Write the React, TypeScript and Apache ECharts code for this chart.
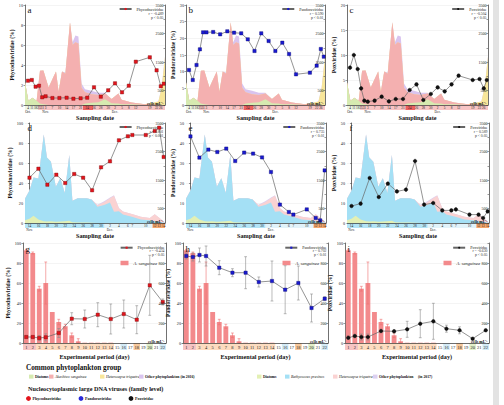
import React, { useEffect, useRef } from "react";
import * as echarts from "echarts";

const FONT = '"Liberation Serif", "Times New Roman", serif';

// ---------------- 2016 field survey (panels a–c) ----------------
const days2016 = [1.5, 3.4, 5.3, 7, 8.6, 10.3, 13.7, 17.2, 20.8, 24.2, 27.8, 31.1, 34.5, 37.9, 41.6, 45, 48.5, 51.9, 55.4, 62.4, 65.8, 67.9, 69.4];
const dateLabels2016 = ["4", "11", "18", "25", "31", "3", "7", "10", "14", "17", "21", "24", "26", "28", "30", "2", "5", "8", "12", "19", "22", "26", "29"];
const monthPos2016 = [1.5, 10.3, 45];
const monthNames2016 = ["Oct.", "Nov.", "Dec."];
const phyco2016 = [2.43, 2.5, 1.83, 1.93, 0.77, 0.87, 0.7, 0.7, 0.73, 0.63, 0.67, 0.73, 1.77, 0.83, 1.47, 2.17, 1.27, 1.93, 4.33, 4.77, 3.47, 1.87, 2.13];
const pandora2016 = [10.5, 7.5, 12, 16.7, 21.8, 21.8, 21.9, 21.2, 22.1, 21.7, 21.5, 19.7, 16.2, 21.5, 19.2, 16.2, 18.7, 15.3, 9.2, 9.7, 11.8, 16.8, 14.5];
const pox2016 = [7.47, 10, 7.2, 3.33, 0.87, 0.67, 0.87, 1.67, 0.73, 1.2, 1.2, 3.0, 4.13, 1.0, 2.2, 3.53, 2.73, 4.13, 5.87, 5.0, 5.2, 3.33, 5.0];

const areaDays2016 = [0, 1.7, 3.7, 5.8, 7.5, 9.2, 11.8, 13.8, 15.5, 16.8, 18.5, 20.2, 22.5, 23.8, 25.2, 26.7, 28.3, 30, 33.3, 36.7, 40, 43.3, 46.7, 48.3, 53.3, 60, 66.7, 68.3, 70];
const diatoms2016 = [800, 150, 250, 150, 50, 30, 0, 0, 0, 0, 0, 0, 0, 0, 0, 0, 0, 50, 80, 100, 200, 60, 50, 30, 30, 0, 0, 0, 0];
const akashiwo2016 = [0, 0, 0, 0, 1150, 1180, 610, 920, 1170, 460, 1170, 1090, 2900, 2100, 2200, 2150, 600, 400, 300, 250, 200, 150, 350, 150, 60, 30, 20, 0, 0];
const hetero2016 = [0, 0, 0, 0, 0, 0, 0, 0, 0, 0, 0, 0, 0, 0, 0, 0, 0, 0, 0, 0, 0, 0, 0, 0, 0, 0, 100, 600, 1700];
const other2016 = [0, 0, 0, 0, 0, 0, 0, 0, 0, 0, 0, 50, 0, 100, 230, 250, 150, 100, 120, 80, 30, 0, 0, 0, 0, 0, 0, 0, 0];
const phaseStart2016 = [0, 6.5, 29, 34];
const phaseEnd2016 = [6.5, 29, 34, 70];
const phaseType2016 = ["pre", "bloom", "peak", "bloom"];

// ---------------- 2017 field survey (panels d–f) ----------------
const days2017 = [0, 2, 4, 6, 8, 10, 12, 14, 16, 18, 20, 22, 23, 26, 28, 29, 30];
const dateLabels2017 = ["14", "16", "18", "20", "22", "24", "26", "28", "30", "2", "4", "6", "7", "10", "12", "13", "14"];
const monthPos2017 = [0, 18];
const monthNames2017 = ["Nov.", "Dec."];
const phyco2017 = [45.3, 54.3, 38.3, 48.3, 40, 49, 45.3, 32.7, 55.7, 61.7, 82.7, 86.7, 88, 88, 92, 95.3, 66];
const pandora2017 = [43.3, 32.7, 36.7, 35.5, 37.2, 31, 35.2, 34.7, 32.8, 25.5, 9.2, 5.5, 4.2, 6.8, 2.5, 1.3, 26.3];
const pox2017 = [8.5, 9.7, 22.5, 13, 19.7, 15.8, 16.7, 31, 9.2, 10, 6.3, 6.3, 6.8, 4.2, 4.2, 2.5, 5.8];

const areaDays2017 = [-1, 0, 0.9, 2, 3.2, 3.9, 4.8, 5.9, 6.9, 7.9, 8.9, 9.6, 10.8, 12.8, 13.9, 15.2, 16.7, 18, 18.9, 20, 20.9, 22.9, 24.9, 26.9, 28, 29, 30, 30.3];
const diatoms2017 = [100, 150, 250, 120, 60, 50, 60, 40, 50, 60, 80, 30, 20, 20, 10, 0, 0, 0, 0, 0, 0, 0, 0, 0, 0, 0, 0, 0];
const bathy2017 = [750, 990, 1345, 1440, 3035, 2240, 2080, 1226, 1520, 990, 2300, 750, 845, 845, 810, 570, 630, 715, 390, 415, 300, 215, 120, 95, 60, 35, 20, 10];
const hetero2017 = [0, 0, 0, 0, 0, 0, 0, 0, 0, 0, 0, 0, 0, 0, 0, 50, 100, 150, 560, 100, 100, 100, 100, 80, 250, 150, 30, 0];
const other2017 = [0, 0, 0, 0, 0, 0, 0, 0, 0, 0, 0, 0, 0, 0, 0, 20, 30, 30, 20, 10, 0, 0, 0, 0, 0, 0, 0, 0];
const phaseStart2017 = [-1, 16.8, 27.5];
const phaseEnd2017 = [16.8, 27.5, 30.3];
const phaseType2017 = ["bathy", "late", "hetero"];

// ---------------- Experiment (panels g–i) ----------------
const expDays = ["1", "2", "3", "4", "5", "6", "7", "8", "9", "10", "11", "12", "13", "14", "15", "16", "17", "18", "19", "20", "21", "22"];
const sanguineaCells = [927, 900, 543, 600, 310, 210, 167, 77, 17, 3, 3, 3, 3, 3, 0, 0, 0, 0, 0, 0, 0, 0];
const sanguineaErr = [10, 10, 24, 210, 0, 27, 20, 23, 26, 0, 0, 0, 0, 0, 0, 0, 0, 0, 0, 0, 0, 0];
const virusDays = ["1", "2", "3", "4", "6", "8", "10", "12", "14", "16", "18", "20", "22"];
const phycoExp = [6, 6, 5, 5.7, 10, 24.3, 24, 28.3, 24, 29, 23.3, 57.7, 41];
const phycoExpErr = [1, 1, 2.5, 3.5, 4.5, 6, 9, 12, 15, 14, 14, 30, 3];
const pandoraExp = [87, 86, 88, 87, 75.3, 70.3, 70.3, 61, 62, 53.3, 60, 35, 44.3];
const pandoraExpErr = [3, 4, 7, 10, 7, 4, 16, 5, 20, 24, 17, 14, 2];
const poxExp = [5.3, 7, 6, 6, 12, 11.7, 13.7, 19.3, 21.7, 14.3, 12.7, 4.3, 12.7];
const poxExpErr = [1.5, 1.5, 3, 3, 1.5, 1.5, 8, 14, 18, 3.5, 3.5, 1, 1];
const phaseStartExp = [0.5, 2.5, 15.5, 17.5, 19.5, 21.5];
const phaseEndExp = [2.5, 14.5, 16.5, 18.5, 20.5, 22.5];
const phaseTypeExp = ["bloom", "decline", "blue", "orange", "green", "blue"];

// ---------------- styles ----------------
const phaseColor: Record<string, string> = {
  pre: "#eef5e2", bloom: "#f7c4c4", peak: "#ec6060",
  bathy: "#b3e4f6", late: "#e2f3fa", hetero: "#f4a66c",
  decline: "#fddcc0", blue: "#d3ebf7", orange: "#f8c99c", green: "#e2efc8",
};
const C16 = { diatoms: "#d6eab0", akashiwo: "#f4b0b0", hetero: "#f8e69a", other: "#d9c4ef" };
const C17 = { diatoms: "#e3f0b4", bathy: "#a4e0f5", hetero: "#fad2d2", other: "#ddd0f0" };
const virusStyle: Record<string, any> = {
  Phycodnaviridae: { color: "#e3141c", border: "#7a0000", symbol: "rect", size: 3.3 },
  Pandoraviridae: { color: "#1a1ad0", border: "#000070", symbol: "rect", size: 3.3 },
  Poxviridae: { color: "#111111", border: "#000000", symbol: "circle", size: 3.6 },
};

const panels = [
  { letter: "a", row: 0, col: 0, virus: "Phycodnaviridae", values: phyco2016, yMax: 10, yInt: 2, r: "r = -0.489", p: "p < 0.05" },
  { letter: "b", row: 0, col: 1, virus: "Pandoraviridae", values: pandora2016, yMax: 30, yInt: 5, r: "r = 0.590", p: "p < 0.01" },
  { letter: "c", row: 0, col: 2, virus: "Poxviridae", values: pox2016, yMax: 20, yInt: 5, r: "r = -0.504", p: "p < 0.05" },
  { letter: "d", row: 1, col: 0, virus: "Phycodnaviridae", values: phyco2017, yMax: 100, yInt: 20, r: "r = 0.801", p: "p < 0.001" },
  { letter: "e", row: 1, col: 1, virus: "Pandoraviridae", values: pandora2017, yMax: 50, yInt: 10, r: "r = 0.735", p: "p < 0.01" },
  { letter: "f", row: 1, col: 2, virus: "Poxviridae", values: pox2017, yMax: 50, yInt: 10, r: "r = 0.589", p: "p < 0.05" },
  { letter: "g", row: 2, col: 0, virus: "Phycodnaviridae", values: phycoExp, errors: phycoExpErr, yMax: 100, yInt: 20, r: "r = -0.434", p: "p < 0.05" },
  { letter: "h", row: 2, col: 1, virus: "Pandoraviridae", values: pandoraExp, errors: pandoraExpErr, yMax: 100, yInt: 20, r: "r = 0.702", p: "p < 0.01" },
  { letter: "i", row: 2, col: 2, virus: "Poxviridae", values: poxExp, errors: poxExpErr, yMax: 100, yInt: 20, r: "r = -0.630", p: "p < 0.05" },
];

const rowsLayout = [
  { top: 5, height: 100, band: 5, nameGap: 4, name: "Sampling date" },
  { top: 123, height: 100, band: 5, nameGap: 4, name: "Sampling date" },
  { top: 243, height: 100, band: 7, nameGap: 4, name: "Experimental period (day)" },
];
const colsLayout = [
  [[25, 140], [186, 139], [347, 141]],
  [[25, 140], [186, 140], [347, 142]],
  [[23, 143], [183, 145], [345, 144]],
];

function errorBarSeries(xi: number, yi: number, cats: string[], vals: number[], errs: number[], color: string, z: number) {
  const data: any[] = [];
  cats.forEach((c, i) => {
    if (errs[i] > 0) data.push([c, Math.max(0, vals[i] - errs[i]), vals[i] + errs[i]]);
  });
  return {
    type: "custom", xAxisIndex: xi, yAxisIndex: yi, z, silent: true,
    encode: { x: 0, y: [1, 2] },
    data,
    renderItem: (params: any, api: any) => {
      const x = api.value(0);
      const lo = api.coord([x, api.value(1)]);
      const hi = api.coord([x, api.value(2)]);
      const hw = 1.4;
      const st = { stroke: color, lineWidth: 0.6 };
      return {
        type: "group",
        children: [
          { type: "line", shape: { x1: lo[0], y1: lo[1], x2: hi[0], y2: hi[1] }, style: st },
          { type: "line", shape: { x1: hi[0] - hw, y1: hi[1], x2: hi[0] + hw, y2: hi[1] }, style: st },
          { type: "line", shape: { x1: lo[0] - hw, y1: lo[1], x2: lo[0] + hw, y2: lo[1] }, style: st },
        ],
      };
    },
  };
}

// Stacked areas: layers are summed bottom-up, the tallest (top) layer is drawn first
function stackedAreas(xs: number[], layers: { name: string; values: number[]; color: string }[], xi: number, yi: number) {
  const cum: number[][] = [];
  layers.forEach((l, k) => {
    cum.push(l.values.map((v, i) => v + (k > 0 ? cum[k - 1][i] : 0)));
  });
  const out: any[] = [];
  for (let k = layers.length - 1; k >= 0; k--) {
    out.push({
      type: "line", name: layers[k].name, xAxisIndex: xi, yAxisIndex: yi,
      data: xs.map((x, i) => [x, cum[k][i]]),
      symbol: "none", lineStyle: { width: 0 }, areaStyle: { color: layers[k].color, opacity: 1 },
      z: 1, silent: true,
    });
  }
  return out;
}

function buildOption() {
  const grid: any[] = [], xAxis: any[] = [], yAxis: any[] = [], series: any[] = [], legend: any[] = [], graphic: any[] = [];

  panels.forEach((pn) => {
    const rl = rowsLayout[pn.row];
    const [left, width] = colsLayout[pn.row][pn.col];
    const top = rl.top, height = rl.height;
    const right = left + width;
    const gi = grid.length;
    grid.push({ left, top, width, height });
    grid.push({ left, top: top + height, width, height: rl.band });
    const xi = xAxis.length;
    const yi = yAxis.length;
    const isExp = pn.row === 2;
    const xs = pn.row === 0 ? days2016 : days2017;
    const xl = pn.row === 0 ? dateLabels2016 : dateLabels2017;
    const xmin = pn.row === 0 ? 0 : -1;
    const xmax = pn.row === 0 ? 70 : 30.3;
    const lbl = (v: number) => {
      let best = 0;
      xs.forEach((x, i) => { if (Math.abs(x - v) < Math.abs(xs[best] - v)) best = i; });
      return xl[best];
    };

    if (isExp) {
      xAxis.push({
        type: "category", gridIndex: gi, data: expDays, boundaryGap: true, z: 10,
        axisLine: { lineStyle: { color: "#333", width: 0.7 } },
        axisTick: { show: false },
        axisLabel: { interval: 0, fontSize: 4.5, margin: 2, color: "#222", fontFamily: FONT },
      });
    } else {
      xAxis.push({
        type: "value", gridIndex: gi, min: xmin, max: xmax, z: 10,
        axisLine: { lineStyle: { color: "#333", width: 0.7 } },
        axisTick: { show: false },
        splitLine: { show: false },
        axisLabel: { customValues: xs, formatter: (v: number) => lbl(v), fontSize: 3.4, margin: 1.3, color: "#222", fontFamily: FONT },
      });
    }
    const mPos = pn.row === 0 ? monthPos2016 : monthPos2017;
    const mNames = pn.row === 0 ? monthNames2016 : monthNames2017;
    xAxis.push({
      type: "value", gridIndex: gi + 1,
      min: isExp ? 0.5 : xmin, max: isExp ? 22.5 : xmax,
      axisLine: { show: false }, axisTick: { show: false }, splitLine: { show: false },
      axisLabel: isExp ? { show: false } : {
        customValues: mPos,
        formatter: (v: number) => { let b = 0; mPos.forEach((m, i) => { if (Math.abs(m - v) < Math.abs(mPos[b] - v)) b = i; }); return mNames[b]; },
        fontSize: 3.4, margin: 0.6, color: "#222", fontFamily: FONT,
      },
      name: rl.name, nameLocation: "middle", nameGap: isExp ? 3.5 : rl.nameGap,
      nameTextStyle: { fontSize: 6.2, fontWeight: "bold", fontFamily: FONT, color: "#111", verticalAlign: "top" },
    });

    yAxis.push({
      type: "value", gridIndex: gi, position: "left", min: 0, max: pn.yMax, interval: pn.yInt,
      name: pn.virus + " (%)", nameLocation: "middle", nameGap: 10,
      nameTextStyle: { fontSize: 5.6, fontWeight: "bold", fontFamily: FONT, color: "#111" },
      axisLine: { show: true, lineStyle: { color: "#333", width: 0.7 } },
      axisTick: { show: true, length: 1.5, lineStyle: { color: "#333", width: 0.5 } },
      axisLabel: { fontSize: 4.2, margin: 2, color: "#222", fontFamily: FONT },
      splitLine: { show: true, lineStyle: { color: "#e9e9e9", width: 0.5 } },
    });
    const rMax = isExp ? 1000 : 3500;
    const rInt = isExp ? 200 : 500;
    yAxis.push({
      type: "value", gridIndex: gi, position: "right", min: 0, max: rMax, interval: rInt,
      axisLine: { show: true, lineStyle: { color: "#333", width: 0.7 } },
      axisTick: { show: true, inside: true, length: 1.5, lineStyle: { color: "#333", width: 0.5 } },
      splitLine: { show: false },
      z: 10,
      axisLabel: {
        inside: true, fontSize: 4, margin: 1.5, color: "#222", fontFamily: FONT,
        formatter: (v: number) => {
          if (v === 0) return "{c|cells mL⁻¹}\n ";
          if (isExp) return v < rMax ? String(v) : "";
          return v % 1000 === 500 ? String(v) : "";
        },
        rich: { c: { fontSize: 4, fontWeight: "bold", fontFamily: FONT, color: "#111" } },
      },
    });
    yAxis.push({ type: "value", gridIndex: gi + 1, min: 0, max: 1, show: false });

    const pS = pn.row === 0 ? phaseStart2016 : pn.row === 1 ? phaseStart2017 : phaseStartExp;
    const pE = pn.row === 0 ? phaseEnd2016 : pn.row === 1 ? phaseEnd2017 : phaseEndExp;
    const pT = pn.row === 0 ? phaseType2016 : pn.row === 1 ? phaseType2017 : phaseTypeExp;
    series.push({
      type: "line", xAxisIndex: xi + 1, yAxisIndex: yi + 2, data: [[isExp ? 0.5 : xmin, 0]],
      symbol: "none", lineStyle: { width: 0 }, silent: true, z: 1,
      markArea: {
        silent: true,
        data: pS.map((s, i) => [{ xAxis: s, itemStyle: { color: phaseColor[pT[i]] } }, { xAxis: pE[i] }]),
      },
    });

    if (pn.row === 0) {
      series.push(...stackedAreas(areaDays2016, [
        { name: "Diatoms 2016", values: diatoms2016, color: C16.diatoms },
        { name: "Akashiwo sanguinea", values: akashiwo2016, color: C16.akashiwo },
        { name: "Heterocapsa triquetra 2016", values: hetero2016, color: C16.hetero },
        { name: "Other phytoplankton 2016", values: other2016, color: C16.other },
      ], xi, yi + 1));
    } else if (pn.row === 1) {
      series.push(...stackedAreas(areaDays2017, [
        { name: "Diatoms 2017", values: diatoms2017, color: C17.diatoms },
        { name: "Bathycoccus prasinos", values: bathy2017, color: C17.bathy },
        { name: "Heterocapsa triquetra 2017", values: hetero2017, color: C17.hetero },
        { name: "Other phytoplankton 2017", values: other2017, color: C17.other },
      ], xi, yi + 1));
    } else {
      series.push({
        type: "bar", name: "A. sanguinea", xAxisIndex: xi, yAxisIndex: yi + 1,
        data: sanguineaCells, barWidth: "74%", itemStyle: { color: "#f38a8c" }, z: 2, silent: true,
      });
      series.push(errorBarSeries(xi, yi + 1, expDays, sanguineaCells, sanguineaErr, "#ee7070", 3));
    }

    const vs = virusStyle[pn.virus];
    if (isExp) {
      series.push(errorBarSeries(xi, yi, virusDays, pn.values, (pn as any).errors, "#8c8c8c", 4));
    }
    series.push({
      type: "line", name: pn.virus, xAxisIndex: xi, yAxisIndex: yi,
      data: isExp ? virusDays.map((d, i) => [d, pn.values[i]]) : xs.map((x, i) => [x, pn.values[i]]),
      symbol: vs.symbol, symbolSize: vs.size,
      itemStyle: { color: vs.color, borderColor: vs.border, borderWidth: 0.4 },
      lineStyle: { color: "#666", width: 0.7 },
      z: 6, silent: true,
    });

    legend.push({
      data: [pn.virus], top: top + (isExp ? 2.7 : 2), right: 504 - right + 1.5, padding: 0,
      itemWidth: 12, itemHeight: 2.6, selectedMode: false,
      itemStyle: { borderWidth: 0 },
      textStyle: { fontSize: 4, fontFamily: FONT, color: "#222" },
    });
    if (isExp) {
      legend.push({
        data: [{ name: "A. sanguinea", icon: "rect" }], top: top + 17.5, right: 504 - right + 9, padding: 0,
        itemWidth: 8, itemHeight: 4.5, selectedMode: false,
        textStyle: { fontSize: 4.5, fontFamily: FONT, fontStyle: "italic", color: "#222" },
      });
    }
    graphic.push({ type: "text", x: right - 1.5, y: top + (isExp ? 8 : 9.3), z: 20,
      style: { text: pn.r, fontSize: 3.8, fontFamily: FONT, fill: "#333", align: "right", verticalAlign: "middle" } });
    graphic.push({ type: "text", x: right - 1.5, y: top + (isExp ? 12 : 13.3), z: 20,
      style: { text: pn.p, fontSize: 3.8, fontFamily: FONT, fill: "#333", align: "right", verticalAlign: "middle" } });
    graphic.push({ type: "text", x: left + 2.5, y: top + (isExp ? 1 : 0.5), z: 20,
      style: { text: pn.letter, fontSize: 9, fontFamily: FONT, fill: "#111", align: "left", verticalAlign: "top" } });
  });

  graphic.push({ type: "rect", shape: { x: 493, y: 0, width: 6, height: 405 }, style: { fill: "#e3e3e3" }, z: 0 });

  const t = (x: number, y: number, text: string, size: number, extra: any = {}) => ({
    type: "text", x, y, z: 20,
    style: { text, fontSize: size, fontFamily: FONT, fill: "#111", align: "left", verticalAlign: "middle", ...extra },
  });
  graphic.push(t(26, 367.5, "Common phytoplankton group", 7.2, { fontWeight: "bold" }));
  const phyItems: [number, string, string, boolean][] = [
    [29, "Diatoms", C16.diatoms, false],
    [49, "Akashiwo sanguinea", C16.akashiwo, true],
    [100, "Heterocapsa triquetra", C16.hetero, true],
    [139, "Other phytoplankton (in 2016)", C16.other, false],
    [257, "Diatoms", C17.diatoms, false],
    [285, "Bathycoccus prasinos", C17.bathy, true],
    [333, "Heterocapsa triquetra", C17.hetero, true],
    [373, "Other phytoplankton", C17.other, false],
  ];
  phyItems.forEach(([x, name, color, it]) => {
    graphic.push({ type: "rect", shape: { x, y: 374.6, width: 4.5, height: 4 }, style: { fill: color }, z: 20 });
    graphic.push(t(x + 6, 376.8, name, 3.8, it ? { fontStyle: "italic" } : { fontWeight: "bold" }));
  });
  graphic.push(t(418, 376.8, "(in 2017)", 3.8, { fontWeight: "bold" }));
  graphic.push(t(28, 388.5, "Nucleocytoplasmic large DNA viruses (family level)", 6.2, { fontWeight: "bold" }));
  const vItems: [number, string, string][] = [
    [28.5, "Phycodnaviridae", "#e3141c"],
    [81, "Pandoraviridae", "#2a2ad8"],
    [131, "Poxviridae", "#111111"],
  ];
  vItems.forEach(([x, name, color]) => {
    graphic.push({ type: "circle", shape: { cx: x, cy: 398.5, r: 2.4 }, style: { fill: color }, z: 20 });
    graphic.push(t(x + 4, 398.5, name, 4, { fontWeight: "bold" }));
  });

  return {
    animation: false,
    backgroundColor: "#ffffff",
    textStyle: { fontFamily: FONT },
    grid, xAxis, yAxis, series, legend, graphic,
  };
}

export default function App() {
  const ref = useRef<HTMLDivElement>(null);
  useEffect(() => {
    if (!ref.current) return;
    const chart = echarts.init(ref.current, null, { renderer: "svg" });
    chart.setOption(buildOption() as any);
    return () => chart.dispose();
  }, []);
  return <div ref={ref} style={{ position: "fixed", left: 0, top: 0, width: 504, height: 405, background: "#fff" }} />;
}
